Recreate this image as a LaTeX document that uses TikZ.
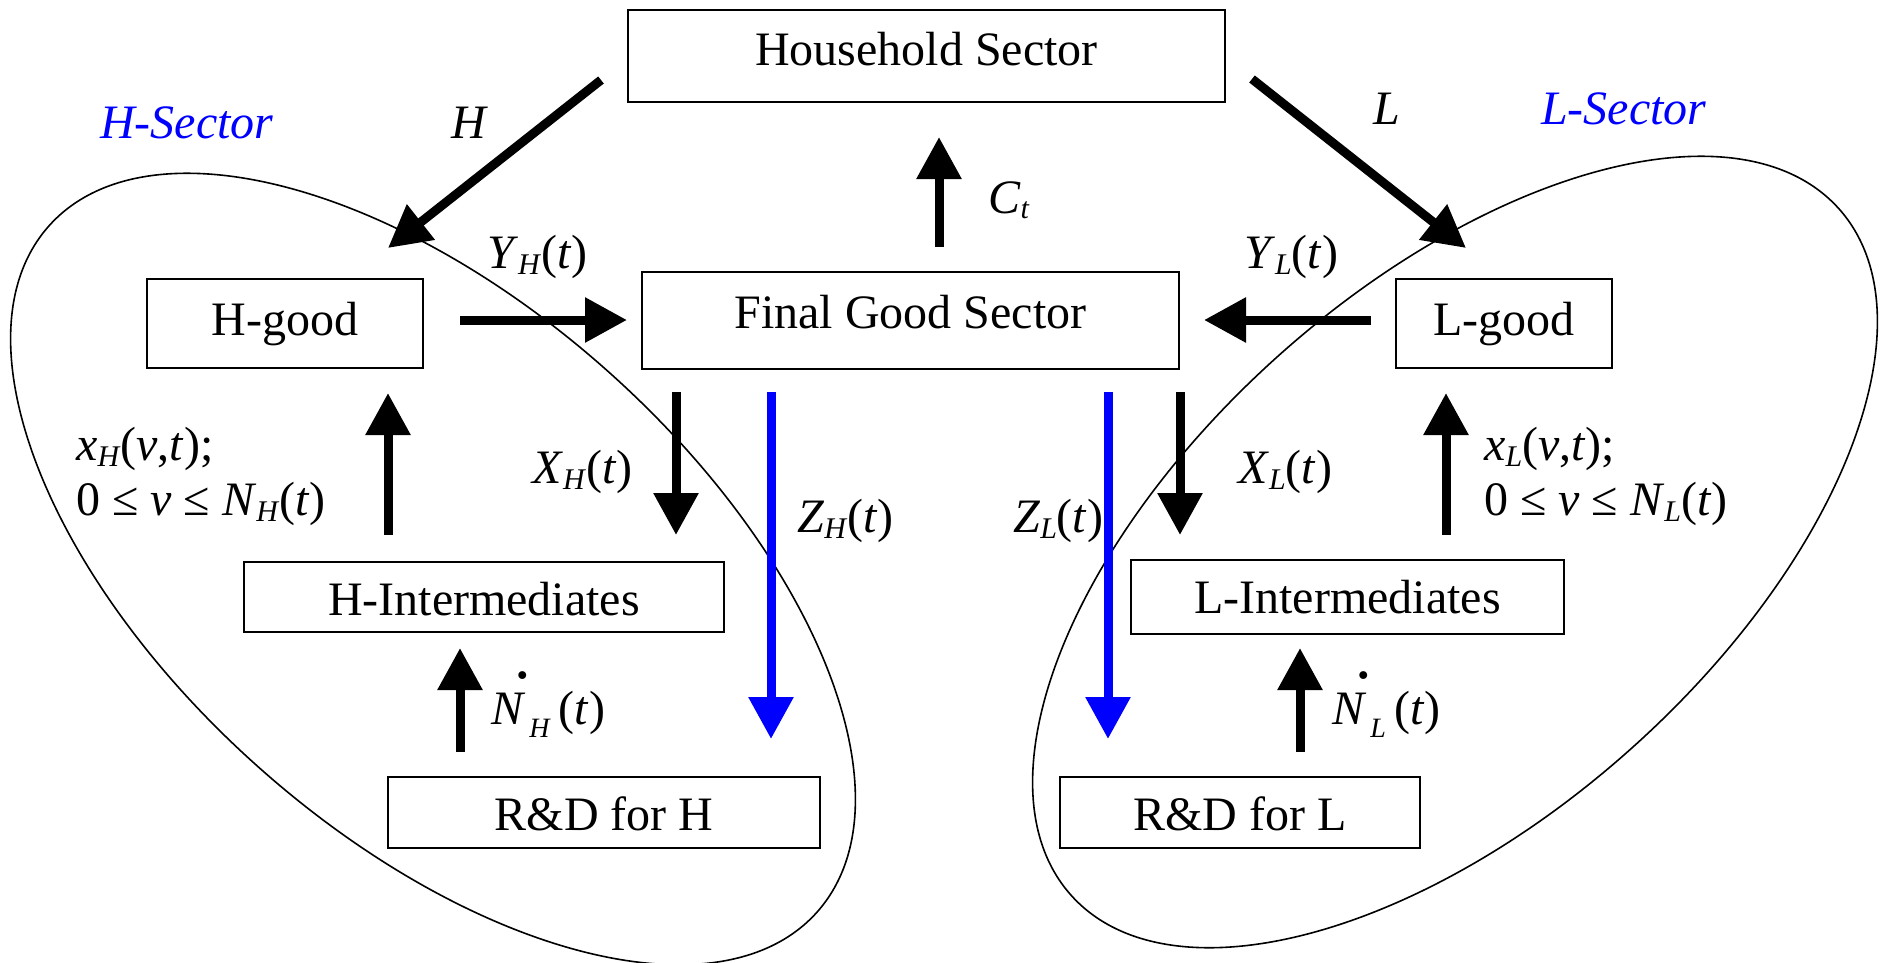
\documentclass[tikz,border=0pt]{standalone}
\usepackage{fontspec}
\setmainfont{Liberation Serif}
\usetikzlibrary{arrows.meta}
\definecolor{secblue}{RGB}{0,0,255}
\newcommand{\mi}[1]{\textit{#1}}
\newcommand{\lsub}[1]{\raisebox{-6pt}{\fontsize{30}{30}\selectfont\textit{#1}}}
\newcommand{\dotN}[1]{\makebox[0pt][l]{\kern23pt\raisebox{46pt}{\fontsize{66}{66}\selectfont .}}\mi{N}\kern4pt\raisebox{-13pt}{\fontsize{28}{28}\selectfont\textit{#1}}\kern8pt(\mi{t})}
\tikzset{
  box/.style={draw, line width=2pt, inner sep=0pt, text depth=0pt},
  flow/.style={line width=9pt, -{Triangle[length=42pt,width=43pt]}},
  zflow/.style={flow, draw=secblue, fill=secblue},
  lbl/.style={anchor=base west, inner sep=0pt},
  ell/.style={line width=1.6pt},
}
\begin{document}
\begin{tikzpicture}[x=1pt,y=-1pt, every node/.style={font=\fontsize{48}{58}\selectfont}]
\useasboundingbox (0,0) rectangle (1885,962);
% sector ellipses
\draw[ell, rotate around={-41.8:(433,569)}] (433,569) ellipse [x radius=515pt, y radius=264pt];
\draw[ell, rotate around={41.8:(1455,552)}] (1455,552) ellipse [x radius=515pt, y radius=264pt];
% boxes
\node[box, minimum width=597pt, minimum height=92pt, text height=18pt] (hh) at (926.5,56) {Household Sector};
\node[box, minimum width=537pt, minimum height=97pt, text height=15pt] (fg) at (910.5,320.5) {Final Good Sector};
\node[box, minimum width=276pt, minimum height=89pt, text height=23pt] (hgood) at (285,323.5) {H-good};
\node[box, minimum width=216pt, minimum height=89pt, text height=23pt] (lgood) at (1504,323.5) {L-good\hspace{36pt}};
\node[box, minimum width=480pt, minimum height=70pt, text height=36pt] (hint) at (484,597) {H-Intermediates};
\node[box, minimum width=433pt, minimum height=74pt, text height=32pt] (lint) at (1347.5,597) {L-Intermediates};
\node[box, minimum width=432pt, minimum height=71pt, text height=35pt] (rdh) at (604,812.5) {R\&D for H};
\node[box, minimum width=360pt, minimum height=71pt, text height=35pt] (rdl) at (1240,812.5) {R\&D for L};
% connector end points
\coordinate (hOut) at (601,80);   \coordinate (hIn) at (388,248);
\coordinate (lOut) at (1252,79);  \coordinate (lIn) at (1466,248);
\coordinate (cOut) at (939,247);  \coordinate (cIn) at (939,137);
\coordinate (yhOut) at (460,320); \coordinate (yhIn) at (627,320);
\coordinate (ylOut) at (1371,320);\coordinate (ylIn) at (1204,320);
\coordinate (xhOut) at (676,392); \coordinate (xhIn) at (676,535);
\coordinate (zhOut) at (771,392); \coordinate (zhIn) at (771,739);
\coordinate (zlOut) at (1108,392);\coordinate (zlIn) at (1108,739);
\coordinate (xlOut) at (1180,392);\coordinate (xlIn) at (1180,535);
\coordinate (vhOut) at (388,535); \coordinate (vhIn) at (388,393);
\coordinate (vlOut) at (1446,535);\coordinate (vlIn) at (1446,393);
\coordinate (nhOut) at (460,752); \coordinate (nhIn) at (460,648);
\coordinate (nlOut) at (1300,752);\coordinate (nlIn) at (1300,648);
% connectors
\draw[flow] (hOut) -- (hIn);
\draw[flow] (lOut) -- (lIn);
\draw[flow] (cOut) -- (cIn);
\draw[flow] (yhOut) -- (yhIn);
\draw[flow] (ylOut) -- (ylIn);
\draw[flow] (xhOut) -- (xhIn);
\draw[flow] (xlOut) -- (xlIn);
\draw[zflow] (zhOut) -- (zhIn);
\draw[zflow] (zlOut) -- (zlIn);
\draw[flow] (vhOut) -- (vhIn);
\draw[flow] (vlOut) -- (vlIn);
\draw[flow] (nhOut) -- (nhIn);
\draw[flow] (nlOut) -- (nlIn);
% labels
\node[lbl, text=secblue] (hsec) at (100,138) {\mi{H-Sector}};
\node[lbl, text=secblue] (lsec) at (1541,124) {\mi{L-Sector}};
\node[lbl] (lh) at (451,138) {\mi{H}};
\node[lbl] (ll) at (1373,124) {\mi{L}};
\node[lbl] (lc) at (988,213) {\mi{C}\raisebox{-5pt}{\fontsize{30}{30}\selectfont\mi{t}}};
\node[lbl] (lyh) at (487,268) {\mi{Y}\lsub{H}(\mi{t})};
\node[lbl] (lyl) at (1244,268) {\mi{Y}\lsub{L}(\mi{t})};
\node[lbl] (lxh) at (532,483) {\mi{X}\lsub{H}(\mi{t})};
\node[lbl] (lxl) at (1238,483) {\mi{X}\lsub{L}(\mi{t})};
\node[lbl] (lzh) at (797,532) {\mi{Z}\lsub{H}(\mi{t})};
\node[lbl] (lzl) at (1013,532) {\mi{Z}\lsub{L}(\mi{t})};
\node[lbl] (lvh1) at (76,460) {\mi{x}\lsub{H}(\mi{v},\mi{t});};
\node[lbl] (lvh2) at (76,515) {0 ≤ \mi{v} ≤ \mi{N}\lsub{H}(\mi{t})};
\node[lbl] (lvl1) at (1484,460) {\mi{x}\lsub{L}(\mi{v},\mi{t});};
\node[lbl] (lvl2) at (1484,515) {0 ≤ \mi{v} ≤ \mi{N}\lsub{L}(\mi{t})};
\node[lbl] (lnh) at (491,724) {\dotN{H}};
\node[lbl] (lnl) at (1332,724) {\dotN{L}};
\end{tikzpicture}
\end{document}
